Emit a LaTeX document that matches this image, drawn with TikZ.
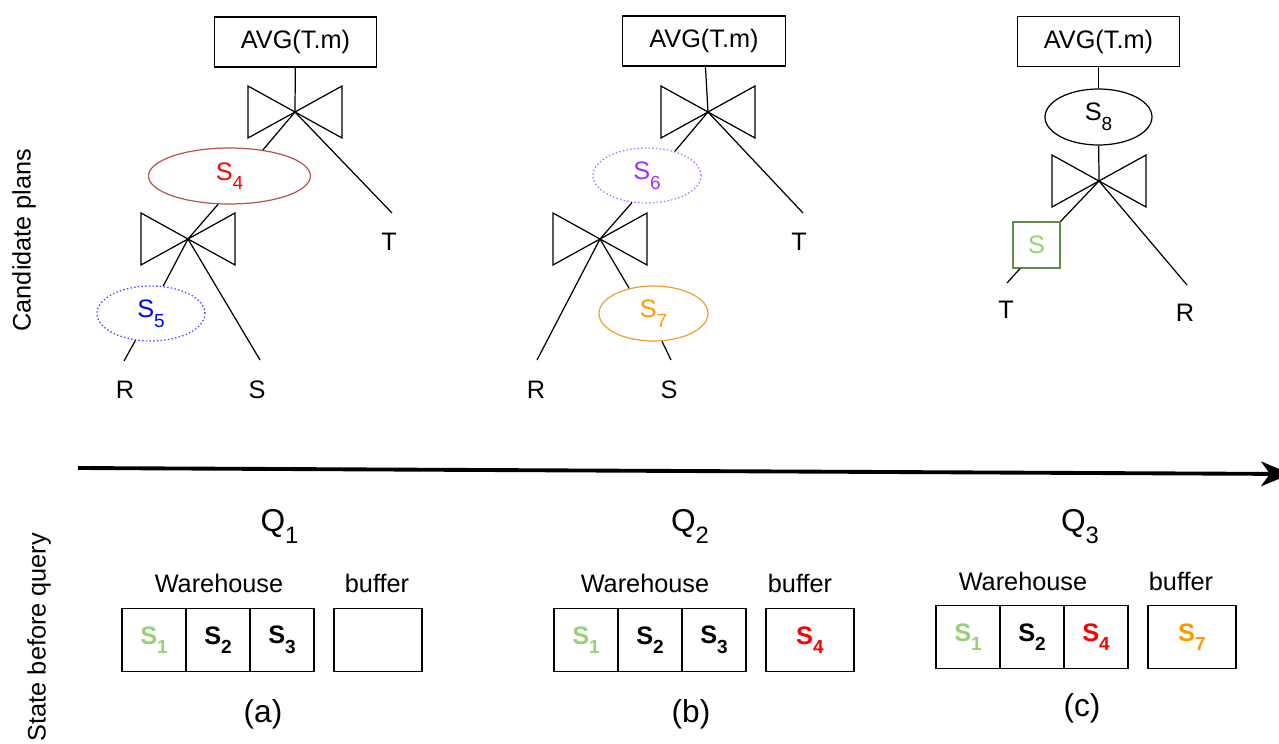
\documentclass[tikz,border=0pt]{standalone}
\usepackage{fontspec}
\setmainfont{Liberation Sans}
\usepackage{tikz}
\usetikzlibrary{arrows.meta,positioning,shapes.geometric}
\usepackage{xcolor}
\definecolor{sred}{HTML}{FF0000}
\definecolor{sredline}{HTML}{B85450}
\definecolor{sblue}{HTML}{0000FF}
\definecolor{sblueline}{HTML}{4040FF}
\definecolor{spurple}{HTML}{9933FF}
\definecolor{spurpleline}{HTML}{B366FF}
\definecolor{sorange}{HTML}{FF9900}
\definecolor{sorangeline}{HTML}{F0A030}
\definecolor{sgreen}{HTML}{97D077}
\definecolor{sgreenline}{HTML}{5E8C4A}
\newcommand{\lowidx}[1]{\raisebox{-0.38em}{\scalebox{0.75}{#1}}}
\newcommand{\joinsym}[1]{\draw (#1) -- ++(-47,-26) -- ++(0,52) -- cycle (#1) -- ++(47,-26) -- ++(0,52) -- cycle;}

\begin{document}
\begin{tikzpicture}[x=0.02cm,y=-0.02cm,line width=0.7pt,font=\fontsize{14.4}{17}\selectfont,
 agg/.style={draw,minimum width=3.25cm,minimum height=1cm,inner sep=0pt},
 stat/.style={draw,ellipse,inner sep=0pt,minimum width=2.16cm,minimum height=1.1cm},
 dots/.style={dash pattern=on 0.8pt off 1.3pt},
 leaf/.style={anchor=base,inner sep=0pt},
 cell/.style={draw,outer sep=0pt,inner sep=0pt,minimum width=1.28cm,minimum height=1.26cm,font=\fontsize{14.4}{17}\selectfont\bfseries},
 big/.style={font=\fontsize{18}{21}\selectfont},
 side/.style={rotate=90},
 arr/.style={-{Stealth[length=17pt,width=14pt,inset=5pt]},line width=2.2pt}]
\useasboundingbox (0,0) rectangle (1279,744);

% plan (a)
\node[agg] (avgA) at (295.5,42) {AVG(T.m)};
\coordinate (j1A) at (295,112);
\coordinate (j2A) at (188,239);
\node[stat,draw=sredline,text=sred,minimum width=3.24cm,minimum height=1.12cm] (s4) at (229.5,176) {S\lowidx{4}};
\node[stat,dots,draw=sblueline,text=sblue] (s5) at (151,313.5) {S\lowidx{5}};
\coordinate (tA) at (392,213);
\coordinate (rA) at (124,361);
\coordinate (sA) at (260,360);
\node[leaf] (tAlab) at (389,250) {T};
\node[leaf] (rAlab) at (125,398) {R};
\node[leaf] (sAlab) at (257,398) {S};
\joinsym{j1A}
\joinsym{j2A}
\draw (avgA) -- (j1A);
\draw (j1A) -- (s4.38);
\draw (j1A) -- (tA);
\draw (s4.248) -- (j2A);
\draw (j2A) -- (s5.66);
\draw (j2A) -- (sA);
\draw (s5.240) -- (rA);

% plan (b)
\node[agg] (avgB) at (704,41) {AVG(T.m)};
\coordinate (j1B) at (708,112);
\coordinate (j2B) at (600,239);
\node[stat,dots,draw=spurpleline,text=spurple] (s6) at (647,175.5) {S\lowidx{6}};
\node[stat,draw=sorangeline,text=sorange,minimum width=2.18cm] (s7) at (653.5,313.5) {S\lowidx{7}};
\coordinate (tB) at (803,213);
\coordinate (rB) at (537,360);
\coordinate (sB) at (671,360);
\node[leaf] (tBlab) at (799,250) {T};
\node[leaf] (rBlab) at (536,398) {R};
\node[leaf] (sBlab) at (669,398) {S};
\joinsym{j1B}
\joinsym{j2B}
\draw (avgB) -- (j1B);
\draw (j1B) -- (s6.41);
\draw (j1B) -- (tB);
\draw (s6.241) -- (j2B);
\draw (j2B) -- (rB);
\draw (j2B) -- (s7.134);
\draw (s7.287) -- (sB);

% plan (c)
\node[agg] (avgC) at (1098.5,41.5) {AVG(T.m)};
\node[stat,minimum width=2.14cm,minimum height=1.12cm] (s8) at (1098.5,117) {S\lowidx{8}};
\coordinate (j1C) at (1099,181);
\node[draw=sgreenline,text=sgreen,minimum width=0.94cm,minimum height=0.92cm,inner sep=0pt] (sc) at (1036.5,245) {S};
\coordinate (tC) at (1007,283);
\coordinate (rC) at (1187,285);
\node[leaf] (tClab) at (1006,318) {T};
\node[leaf] (rClab) at (1185,321) {R};
\joinsym{j1C}
\draw (avgC) -- (s8);
\draw (s8) -- (j1C);
\draw (j1C) -- (sc.north east);
\draw (sc.-125) -- (tC);
\draw (j1C) -- (rC);

% time line
\coordinate (tlStart) at (78,468);
\coordinate (tlEnd) at (1291,474);
\draw[arr] (tlStart) -- (tlEnd);

\node[side] (candLab) at (24,240) {Candidate plans};
\node[side] (stateLab) at (39,637) {State before query};

% state (a)
\node[big,anchor=base] (q1) at (279.5,531) {Q\lowidx{1}};
\node[cell] (a1) at (154,640) {\textcolor{sgreen}{S\lowidx{1}}};
\node[cell,right=0pt of a1] (a2) {S\lowidx{2}};
\node[cell,right=0pt of a2] (a3) {S\lowidx{3}};
\node[cell,minimum width=1.76cm,right=0.4cm of a3] (abuf) {};
\node[leaf] (whA) at (219,592) {Warehouse};
\node[leaf] (bufA) at (377,592) {buffer};
\node[big] (capA) at (263,714) {(a)};

% state (b)
\node[big,anchor=base] (q2) at (690,531) {Q\lowidx{2}};
\node[cell] (b1) at (586,640) {\textcolor{sgreen}{S\lowidx{1}}};
\node[cell,right=0pt of b1] (b2) {S\lowidx{2}};
\node[cell,right=0pt of b2] (b3) {S\lowidx{3}};
\node[cell,minimum width=1.76cm,right=0.4cm of b3] (bbuf) {\textcolor{sred}{S\lowidx{4}}};
\node[leaf] (whB) at (645,592) {Warehouse};
\node[leaf] (bufB) at (800,592) {buffer};
\node[big] (capB) at (691,714) {(b)};

% state (c)
\node[big,anchor=base] (q3) at (1080,531) {Q\lowidx{3}};
\node[cell] (c1) at (968,637) {\textcolor{sgreen}{S\lowidx{1}}};
\node[cell,right=0pt of c1] (c2) {S\lowidx{2}};
\node[cell,right=0pt of c2] (c3) {\textcolor{sred}{S\lowidx{4}}};
\node[cell,minimum width=1.76cm,right=0.4cm of c3] (cbuf) {\textcolor{sorange}{S\lowidx{7}}};
\node[leaf] (whC) at (1023,590) {Warehouse};
\node[leaf] (bufC) at (1181,590) {buffer};
\node[big] (capC) at (1082,708) {(c)};
\end{tikzpicture}
\end{document}
